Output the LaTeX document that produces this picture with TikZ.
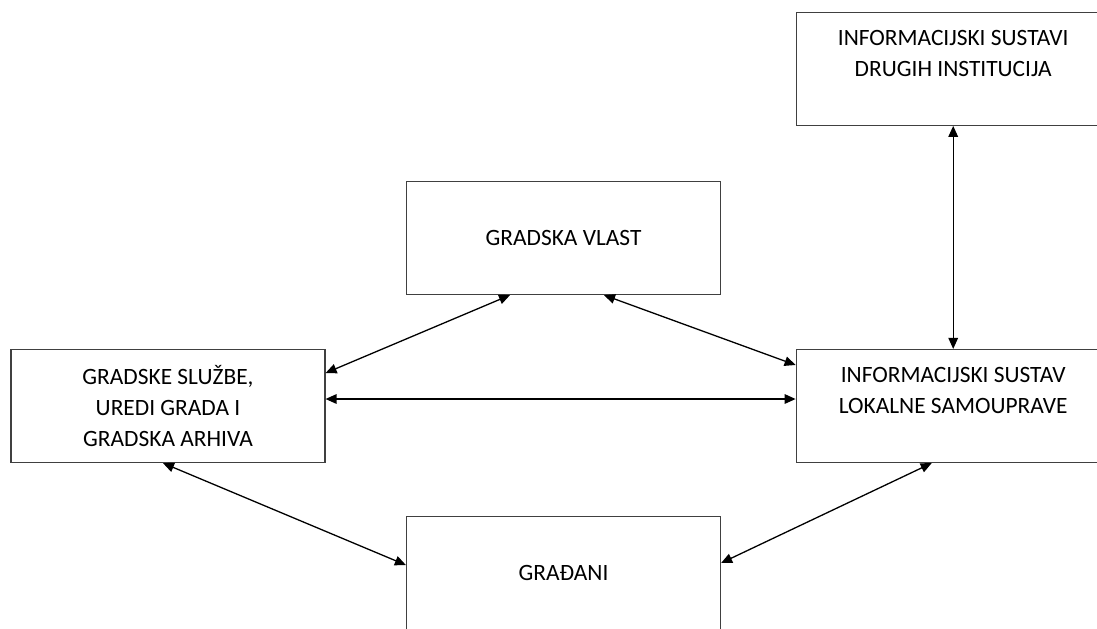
\documentclass[tikz,border=0pt]{standalone}
\usepackage{fontspec}
\setmainfont{Carlito}
\usetikzlibrary{positioning, arrows.meta}

\begin{document}
\begin{tikzpicture}[node distance=.75cm]
    \tikzstyle{box}=[draw=black!75, line width=.6pt, rectangle, minimum width=157pt, minimum height=56.5pt, inner sep=0pt, align=center, font=\fontsize{11.7}{15.5}\selectfont];
    \tikzstyle{link}=[<->, >={Triangle[length=5.5pt, width=4.8pt]}, line width=.65pt, black];
    \useasboundingbox (0,0) rectangle (548.5pt,-314pt);
    \node[box] (sluzbe) at (84pt,-203pt) {GRADSKE SLUŽBE,\\UREDI GRADA I\\GRADSKA ARHIVA};
    \node[box, right=235pt of sluzbe] (lokalna) {INFORMACIJSKI SUSTAV\\LOKALNE SAMOUPRAVE\\\mbox{}};
    \node[box, above=111.5pt of lokalna] (institucije) {INFORMACIJSKI SUSTAVI\\DRUGIH INSTITUCIJA\\\mbox{}};
    \node[box] (vlast) at (281.75pt,-119pt) {GRADSKA VLAST};
    \node[box] (gradjani) at (281.75pt,-286.5pt) {GRAĐANI};

    \path[link]
    ([xshift=-26.75pt]vlast.south) edge ([yshift=16.5pt]sluzbe.east)
    ([xshift=20.25pt]vlast.south) edge ([yshift=20.5pt]lokalna.west)
    ([yshift=3.5pt]sluzbe.east) edge ([yshift=3.5pt]lokalna.west)
    (institucije.south) edge (lokalna.north)
    ([xshift=-2.5pt]sluzbe.south) edge ([yshift=4pt]gradjani.west)
    ([xshift=-10.75pt]lokalna.south) edge ([yshift=5pt]gradjani.east);
  \end{tikzpicture}
\end{document}
